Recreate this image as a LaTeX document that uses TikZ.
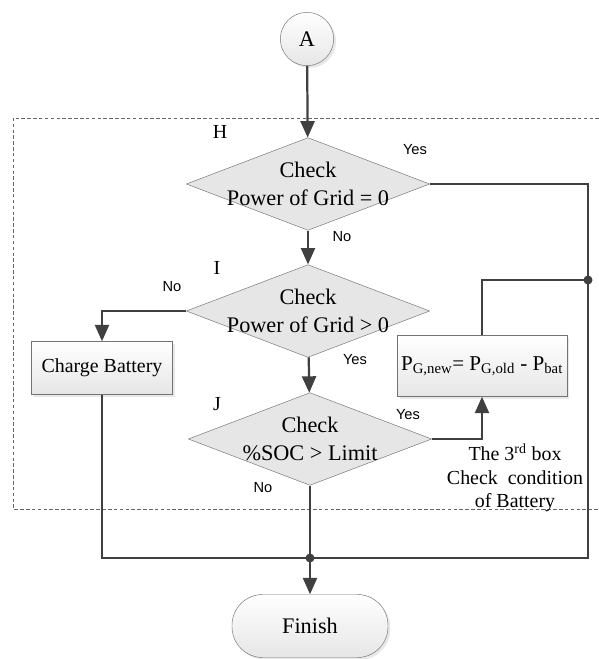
\documentclass[tikz,border=0pt]{standalone}
\usepackage{fontspec}
\setmainfont{Liberation Serif}
\newfontfamily\answerfont{Liberation Sans}
\usetikzlibrary{shapes.geometric, arrows.meta, shadows}
\definecolor{linegray}{HTML}{404040}
\definecolor{boxgray}{HTML}{E6E6E6}

\begin{document}
\begin{tikzpicture}[x=0.03cm, y=-0.03cm,
        decision/.style={draw=gray!90!black, diamond, fill=boxgray, aspect=2.63, inner sep=-6pt,
            minimum width=7.3cm, minimum height=2.78cm, align=center, font=\fontsize{19}{24}\selectfont},
        process/.style={draw=gray!90!black, rectangle, top color=white, bottom color=boxgray,
            drop shadow={shadow xshift=2pt, shadow yshift=-2pt, fill=gray!35}, font=\fontsize{17}{19}\selectfont},
        flow/.style={draw=linegray, line width=1.9pt},
        arrow/.style={flow, -{Triangle[length=14pt, width=12pt]}},
        answer/.style={font=\answerfont\fontsize{12.5}{14}\selectfont},
        tag/.style={font=\fontsize{17}{18}\selectfont}]
    \useasboundingbox (0,0) rectangle (599,659);

    % frame round the checking part
    \draw[gray!80!black, thin, dash pattern=on 3pt off 2pt] (599,118) -- (13,118) -- (13,509) -- (599,509);

    \node[draw=gray!90!black, circle, minimum size=1.6cm, top color=white, bottom color=boxgray,
        drop shadow={shadow xshift=2pt, shadow yshift=-2pt, fill=gray!35}, font=\fontsize{19}{20}\selectfont] (start) at (307,39) {A};
    \node[decision] (gridzero) at (308,184) {Check\\Power of Grid = 0};
    \node[decision] (gridpos) at (308,311) {Check\\Power of Grid > 0};
    \node[decision] (soc) at (310,439) {Check\\\%SOC > Limit};
    \node[process, minimum width=4.23cm, minimum height=1.59cm] (charge) at (102,368) {Charge Battery};
    \node[process, minimum width=4.74cm, minimum height=1.83cm, font=\fontsize{18}{19}\selectfont] (newpower) at (482,366)
        {P\textsubscript{G,new}= P\textsubscript{G,old} - P\textsubscript{bat}};
    \node[process, rounded corners=0.92cm, minimum width=4.68cm, minimum height=1.89cm, font=\fontsize{19}{20}\selectfont] (finish) at (310,626) {Finish};

    \node[tag] (tagH) at (220,132) {H};
    \node[tag] (tagI) at (217,268) {I};
    \node[tag] (tagJ) at (217,404) {J};
    \node[tag, align=center, font=\fontsize{17}{20}\selectfont] (note) at (515,478)
        {The 3\textsuperscript{rd} box\\Check\ \ condition\\of Battery};

    \coordinate (dotR) at (588,280);
    \coordinate (dotB) at (310,558);

    \draw[arrow] (start) -- (gridzero);
    \draw[arrow] (gridzero) -- (gridpos);
    \draw[arrow] (gridpos) -- (soc);
    \draw[arrow] (gridpos.west) -| (charge.north);
    \draw[arrow] (soc.east) -| (newpower.south);
    \draw[flow] (newpower.north) |- (dotR);
    \draw[flow] (gridzero.east) -| (dotR |- dotB) -- (charge.south |- dotB) -- (charge.south);
    \draw[flow] (soc.south) -- (dotB);
    \draw[arrow] (dotB) -- (finish.north);
    \fill[linegray] (dotR) circle (4.5);
    \fill[linegray] (dotB) circle (4.5);

    \node[answer] (yes1) at (415,150) {Yes};
    \node[answer] (no1) at (342,237) {No};
    \node[answer] (no2) at (172,287) {No};
    \node[answer] (yes2) at (355,360) {Yes};
    \node[answer] (yes3) at (408,415) {Yes};
    \node[answer] (no3) at (263,488) {No};
\end{tikzpicture}
\end{document}
